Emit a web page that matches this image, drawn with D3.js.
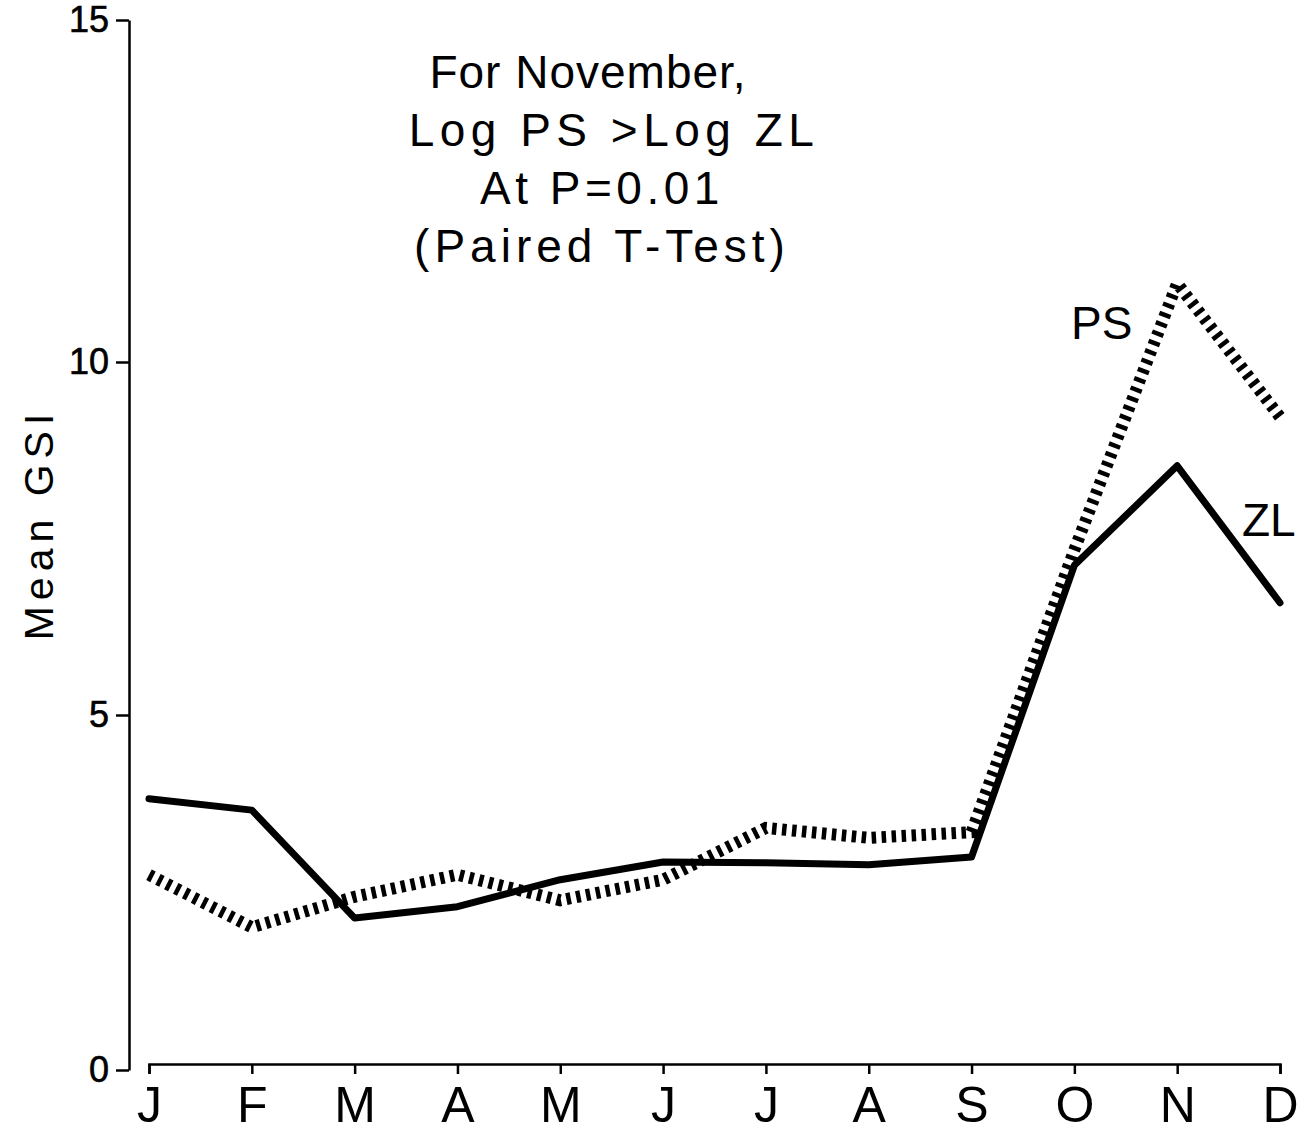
<!DOCTYPE html>
<html>
<head>
<meta charset="utf-8">
<script src="https://cdn.jsdelivr.net/npm/d3@7"></script>
<style>
  html, body { margin: 0; padding: 0; background: #fff; }
  svg { display: block; font-family: "Liberation Sans", Arial, Helvetica, sans-serif; }
</style>
</head>
<body>
<svg id="chart" width="1305" height="1136"></svg>
<script>
const months = ["J", "F", "M", "A", "M", "J", "J", "A", "S", "O", "N", "D"];
const zlValues = [3.82, 3.66, 2.14, 2.30, 2.68, 2.93, 2.92, 2.89, 3.00, 7.12, 8.53, 6.59];
const psValues = [2.75, 2.01, 2.44, 2.75, 2.39, 2.68, 3.41, 3.27, 3.35, 7.34, 11.15, 9.22];
const yTicks = [0, 5, 10, 15];
const annotationLines = ["For November,", "Log PS >Log ZL", "At P=0.01", "(Paired T-Test)"];

const svg = d3.select("#chart");
const FONT = "'Liberation Sans', Arial, Helvetica, sans-serif";

const x = d3.scalePoint().domain(d3.range(months.length)).range([149, 1280]).padding(0);
// scanned axis is slightly non-uniform; follow the printed tick positions
const y = d3.scaleLinear().domain([0, 5, 10, 15]).range([1070, 715, 362, 20]);

// Y axis
const yAxis = svg.append("g")
  .attr("transform", "translate(129,0)")
  .call(d3.axisLeft(y).tickValues(yTicks).tickSize(13).tickSizeOuter(0).tickPadding(7).tickFormat(d3.format("d")));
yAxis.select(".domain").attr("stroke", "#000").attr("stroke-width", 2.5);
yAxis.selectAll(".tick line").attr("stroke", "#000").attr("stroke-width", 2.5);
yAxis.selectAll(".tick text").attr("font-size", 36).attr("fill", "#000")
  .attr("font-family", FONT).attr("stroke", "#000").attr("stroke-width", 0.6);

// X axis
const xAxis = svg.append("g")
  .attr("transform", "translate(0,1064)")
  .call(d3.axisBottom(x).tickSize(10).tickSizeOuter(10).tickPadding(12).tickFormat(i => months[i]));
xAxis.select(".domain").attr("stroke", "#000").attr("stroke-width", 2.5);
xAxis.selectAll(".tick line").attr("stroke", "#000").attr("stroke-width", 2.5);
xAxis.selectAll(".tick text").attr("font-size", 50).attr("fill", "#000")
  .attr("font-family", FONT);

// Y label
svg.append("text")
  .attr("transform", "translate(53,524) rotate(-90)")
  .attr("text-anchor", "middle")
  .attr("font-size", 41)
  .attr("letter-spacing", 6)
  .attr("fill", "#000")
  .text("Mean GSI");

// Lines
const line = d3.line().x((d, i) => x(i)).y(d => y(d));

svg.append("path")
  .datum(psValues)
  .attr("d", line)
  .attr("fill", "none")
  .attr("stroke", "#000")
  .attr("stroke-width", 12)
  .attr("stroke-dasharray", "4.5 5.5")
  .attr("stroke-linejoin", "miter");

svg.append("path")
  .datum(zlValues)
  .attr("d", line)
  .attr("fill", "none")
  .attr("stroke", "#000")
  .attr("stroke-width", 7)
  .attr("stroke-linejoin", "round")
  .attr("stroke-linecap", "round");

// Series labels
svg.append("text").attr("x", 1071).attr("y", 339).attr("font-size", 46).attr("fill", "#000").text("PS");
svg.append("text").attr("x", 1242).attr("y", 536).attr("font-size", 46).attr("fill", "#000").text("ZL");

// Annotation
const annSpacing = [1, 5.5, 4.5, 5];
const annCenter = [588, 614, 602, 602];
const ann = svg.append("text")
  .attr("text-anchor", "middle")
  .attr("font-size", 46)
  .attr("fill", "#000");
annotationLines.forEach((t, i) => {
  ann.append("tspan")
    .attr("x", annCenter[i])
    .attr("y", 88 + i * 58)
    .attr("letter-spacing", annSpacing[i])
    .text(t);
});
</script>
</body>
</html>
